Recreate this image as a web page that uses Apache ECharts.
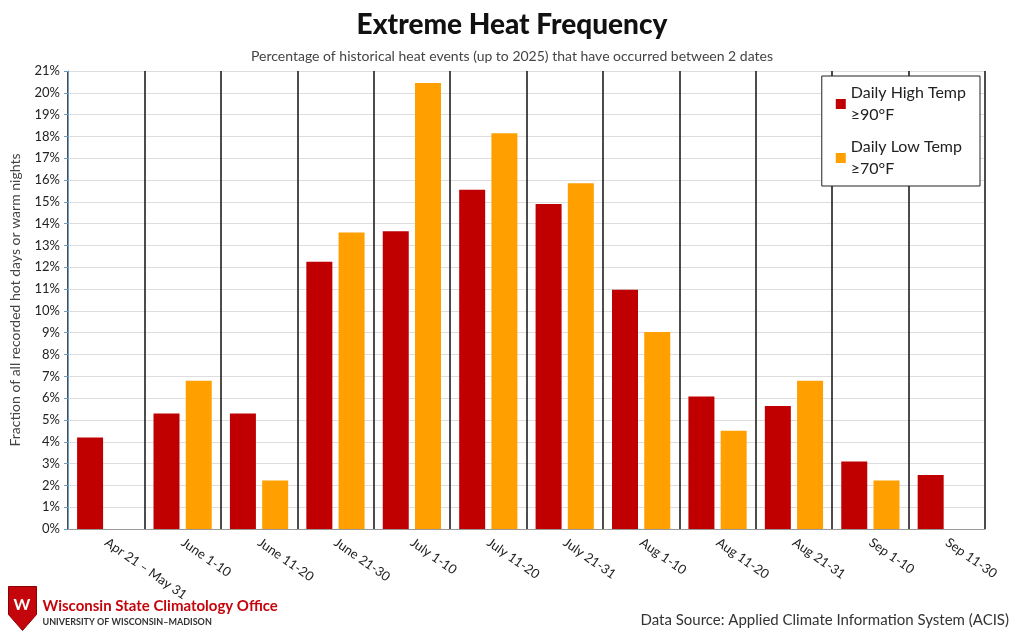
<!DOCTYPE html>
<html><head><meta charset="utf-8">
<script src="https://cdn.jsdelivr.net/npm/echarts@6/dist/echarts.min.js"></script>
<style>html,body{margin:0;background:#fff}#c{width:1024px;height:635px}</style>
</head><body><div id="c"></div>
<script>
// 日期区间
var categories = ['Apr 21 – May 31', 'June 1-10', 'June 11-20', 'June 21-30', 'July 1-10', 'July 11-20',
  'July 21-31', 'Aug 1-10', 'Aug 11-20', 'Aug 21-31', 'Sep 1-10', 'Sep 11-30'];
// 百分比数据
var highTemp = [4.2, 5.3, 5.3, 12.25, 13.65, 15.55, 14.9, 10.97, 6.07, 5.64, 3.1, 2.48];
var lowTemp = [null, 6.8, 2.22, 13.6, 20.45, 18.15, 15.85, 9.03, 4.5, 6.8, 2.22, null];
var yTicks = { min: 0, max: 21, interval: 1 };

var chart = echarts.init(document.getElementById('c'));
var font = 'Lato, "Noto Sans", sans-serif';

chart.setOption({
  textStyle: { fontFamily: font },
  title: [{
    text: 'Extreme Heat Frequency',
    left: 'center', top: 6,
    textStyle: { fontSize: 28, fontWeight: 900, color: '#111', fontFamily: font }
  }, {
    text: 'Percentage of historical heat events (up to 2025) that have occurred between 2 dates',
    left: 'center', top: 44,
    textStyle: { fontSize: 14, fontWeight: 'normal', color: '#444', fontFamily: font }
  }, {
    text: 'Data Source: Applied Climate Information System (ACIS)',
    right: 10, top: 608,
    textStyle: { fontSize: 15, fontWeight: 'normal', color: '#333', fontFamily: font }
  }],
  legend: {
    orient: 'vertical',
    right: 44, top: 76,
    itemWidth: 10, itemHeight: 10, itemGap: 10,
    padding: [6, 14, 6, 14],
    borderColor: '#222', borderWidth: 1,
    backgroundColor: '#fff',
    textStyle: { fontSize: 16, color: '#222', lineHeight: 22, fontFamily: font },
    data: [{ name: 'Daily High Temp\n≥90°F', icon: 'rect' }, { name: 'Daily Low Temp\n≥70°F', icon: 'rect' }]
  },
  grid: { left: 62, right: 39, top: 71, bottom: 106 },
  xAxis: {
    type: 'category',
    data: categories,
    axisLine: { lineStyle: { color: '#999' } },
    axisTick: { show: false },
    splitLine: { show: true, lineStyle: { color: '#111', width: 1.5 } },
    axisLabel: { rotate: -35, fontSize: 13, color: '#222', interval: 0, margin: 12 }
  },
  yAxis: {
    type: 'value',
    min: yTicks.min, max: yTicks.max, interval: yTicks.interval,
    name: 'Fraction of all recorded hot days or warm nights',
    nameLocation: 'middle', nameGap: 46,
    nameTextStyle: { fontSize: 14, color: '#444' },
    axisLine: { show: true, lineStyle: { color: '#6a9ec9' } },
    axisTick: { show: true, length: 4, lineStyle: { color: '#6a9ec9' } },
    splitLine: { lineStyle: { color: '#ddd' } },
    axisLabel: { formatter: '{value}%', fontSize: 13, color: '#222' }
  },
  series: [{
    name: 'Daily High Temp\n≥90°F', type: 'bar', data: highTemp,
    itemStyle: { color: '#c00000' }, barWidth: 26, barGap: '24%'
  }, {
    name: 'Daily Low Temp\n≥70°F', type: 'bar', data: lowTemp,
    itemStyle: { color: '#ff9f00' }, barWidth: 26
  }],
  graphic: [{
    type: 'group', left: 8, top: 586,
    children: [
      { type: 'polygon', shape: { points: [[0, 0], [28, 0], [28, 28], [14, 44], [0, 28]] },
        style: { fill: '#c5050c', stroke: '#8b0000' } },
      { type: 'text', style: { text: 'W', x: 5, y: 10, fill: '#fff', font: 'bold 16px Lato' } },
      { type: 'text', style: { text: 'Wisconsin State Climatology Office', x: 34, y: 12, fill: '#c5050c', font: 'bold 15px Lato' } },
      { type: 'text', style: { text: 'UNIVERSITY OF WISCONSIN–MADISON', x: 34, y: 31, fill: '#333', font: 'bold 9px Lato' } }
    ]
  }]
});
</script></body></html>
